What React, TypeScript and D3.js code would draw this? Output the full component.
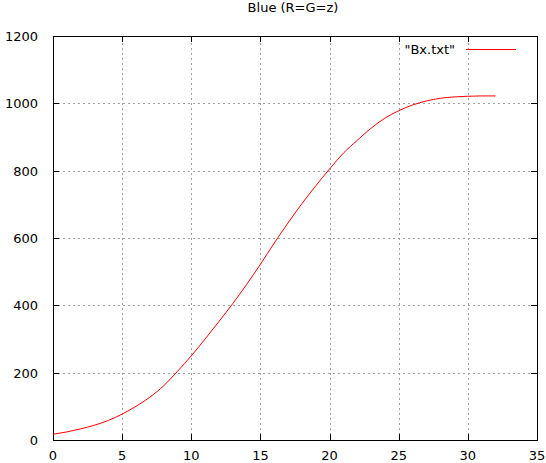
import React from "react";
import * as d3 from "d3";

const xValues = [0,1,2,3,4,5,6,7,8,9,10,11,12,13,14,15,16,17,18,19,20,21,22,23,24,25,26,27,28,29,30,31,32];
const yValues = [17,24,33,44,58,77,100,127,161,204,250,300,352,405,462,522,585,645,702,755,805,852,890,926,956,978,995,1007,1015,1019,1021,1022,1022];
const xTicks = [0,5,10,15,20,25,30,35];
const yTicks = [0,200,400,600,800,1000,1200];
const title = "Blue (R=G=z)";
const seriesName = "\"Bx.txt\"";

const W = 546, H = 463;
const M = { left: 53, right: 537, top: 36, bottom: 440 };
const FONT = "'DejaVu Sans', sans-serif";

export default function App() {
  const x = d3.scaleLinear().domain([0, 35]).range([M.left, M.right]);
  const y = d3.scaleLinear().domain([0, 1200]).range([M.bottom, M.top]);
  const pts = xValues.map((v, i) => [v, yValues[i]] as [number, number]);
  const line = d3.line<[number, number]>().x(d => x(d[0])).y(d => y(d[1])).curve(d3.curveMonotoneX);
  const tl = 6;
  return (
    <svg width={W} height={H} style={{ position: "absolute", left: 0, top: 0, background: "#fff" }} fontFamily={FONT} fontSize={13}>
      <rect x={0} y={0} width={W} height={H} fill="#fff" />
      <g stroke="#a0a0a0" strokeWidth={1} strokeDasharray="2 3" shapeRendering="crispEdges">
        {xTicks.slice(1, -1).map(t => (
          <line key={"gx" + t} x1={Math.round(x(t)) + 0.5} x2={Math.round(x(t)) + 0.5} y1={M.bottom} y2={M.top} />
        ))}
        {yTicks.slice(1, -1).map(t => (
          <line key={"gy" + t} x1={M.left} x2={M.right} y1={Math.round(y(t)) + 0.5} y2={Math.round(y(t)) + 0.5} />
        ))}
      </g>
      <g stroke="#000" strokeWidth={1} shapeRendering="crispEdges">
        {xTicks.map(t => (
          <g key={"tx" + t}>
            <line x1={Math.round(x(t)) + 0.5} x2={Math.round(x(t)) + 0.5} y1={M.bottom} y2={M.bottom - tl} />
            <line x1={Math.round(x(t)) + 0.5} x2={Math.round(x(t)) + 0.5} y1={M.top} y2={M.top + tl} />
          </g>
        ))}
        {yTicks.map(t => (
          <g key={"ty" + t}>
            <line x1={M.left} x2={M.left + tl} y1={Math.round(y(t)) + 0.5} y2={Math.round(y(t)) + 0.5} />
            <line x1={M.right} x2={M.right - tl} y1={Math.round(y(t)) + 0.5} y2={Math.round(y(t)) + 0.5} />
          </g>
        ))}
        <rect x={M.left + 0.5} y={M.top + 0.5} width={M.right - M.left} height={M.bottom - M.top} fill="none" />
      </g>
      <g fill="#000">
        {xTicks.map(t => (
          <text key={"lx" + t} x={x(t)} y={M.bottom + 20} textAnchor="middle">{t}</text>
        ))}
        {yTicks.map(t => (
          <text key={"ly" + t} x={38} y={y(t) + 5} textAnchor="end">{t}</text>
        ))}
        <text x={293} y={12} textAnchor="middle">{title}</text>
        <text x={455} y={54} textAnchor="end">{seriesName}</text>
      </g>
      <rect x={466} y={49} width={50} height={1} fill="#ff0000" />
      <path d={line(pts) || ""} fill="none" stroke="#ff0000" strokeWidth={1} />
    </svg>
  );
}
